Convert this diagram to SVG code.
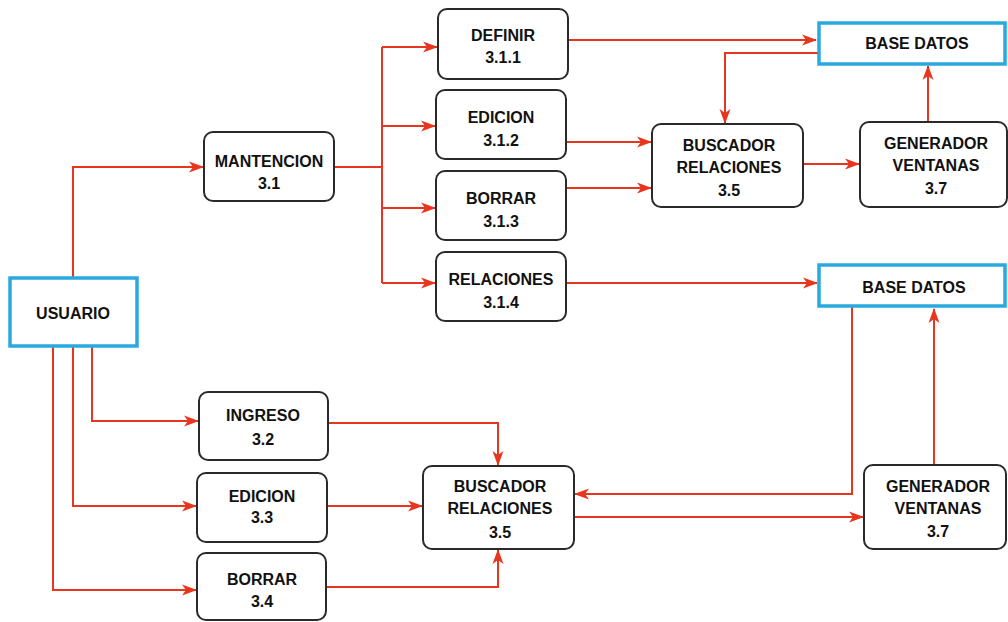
<svg xmlns="http://www.w3.org/2000/svg" width="1008" height="622" viewBox="0 0 1008 622">
  <style>
    .proc { fill: #ffffff; stroke: #2a2a2a; stroke-width: 2; }
    .store { fill: #ffffff; stroke: #2aa9df; stroke-width: 3.5; }
    .label { font-family: "Liberation Sans", Arial, sans-serif; font-weight: bold; font-size: 16px; fill: #111; text-anchor: middle; }
    .flow { fill: none; stroke: #e8361e; stroke-width: 2; }
    .arrow { marker-end: url(#head); }
  </style>
  <defs>
    <marker id="head" markerUnits="userSpaceOnUse" markerWidth="16" markerHeight="12" refX="14" refY="6" orient="auto">
      <path d="M0,0.5 L15,6 L0,11.5 L4,6 z" fill="#e8361e"/>
    </marker>
  </defs>

  <!-- data flows -->
  <g id="connectors">
    <path class="flow arrow" d="M73,277 V167 H203"/>
    <path class="flow" d="M334,167 H382"/>
    <path class="flow" d="M382,47 V283"/>
    <path class="flow arrow" d="M382,47 H437"/>
    <path class="flow arrow" d="M382,126 H435"/>
    <path class="flow arrow" d="M382,208 H435"/>
    <path class="flow arrow" d="M382,283 H435"/>
    <path class="flow arrow" d="M568,40 H816"/>
    <path class="flow arrow" d="M818,53 H725 V123"/>
    <path class="flow arrow" d="M566,142 H651"/>
    <path class="flow arrow" d="M566,188 H651"/>
    <path class="flow arrow" d="M803,164 H859"/>
    <path class="flow arrow" d="M928,122 V66"/>
    <path class="flow arrow" d="M566,283 H817"/>
    <path class="flow arrow" d="M852,307 V494 H575"/>
    <path class="flow arrow" d="M574,517 H863"/>
    <path class="flow arrow" d="M934,465 V309"/>
    <path class="flow arrow" d="M92,347 V421 H198"/>
    <path class="flow arrow" d="M73,347 V506 H196"/>
    <path class="flow arrow" d="M53,347 V590 H196"/>
    <path class="flow arrow" d="M328,423 H498 V465"/>
    <path class="flow arrow" d="M327,506 H422"/>
    <path class="flow arrow" d="M326,587 H498 V550"/>
  </g>

  <g id="usuario">
    <rect class="store" x="10" y="278" width="127" height="68"/>
    <text class="label" x="73" y="319">USUARIO</text>
  </g>

  <g id="mantencion">
    <rect class="proc" x="204" y="132" width="130" height="69" rx="9"/>
    <text class="label" x="269" y="167">MANTENCION</text>
    <text class="label" x="269" y="189">3.1</text>
  </g>

  <g id="definir">
    <rect class="proc" x="438" y="9" width="130" height="70" rx="9"/>
    <text class="label" x="503" y="41">DEFINIR</text>
    <text class="label" x="503" y="63">3.1.1</text>
  </g>

  <g id="edicion-312">
    <rect class="proc" x="436" y="90" width="130" height="69" rx="9"/>
    <text class="label" x="501" y="123">EDICION</text>
    <text class="label" x="501" y="146">3.1.2</text>
  </g>

  <g id="borrar-313">
    <rect class="proc" x="436" y="171" width="130" height="69" rx="9"/>
    <text class="label" x="501" y="204">BORRAR</text>
    <text class="label" x="501" y="227">3.1.3</text>
  </g>

  <g id="relaciones">
    <rect class="proc" x="436" y="252" width="130" height="69" rx="9"/>
    <text class="label" x="501" y="285">RELACIONES</text>
    <text class="label" x="501" y="308">3.1.4</text>
  </g>

  <g id="base-datos-1">
    <rect class="store" x="819" y="23" width="186" height="41"/>
    <text class="label" x="917" y="49">BASE DATOS</text>
  </g>

  <g id="buscador-top">
    <rect class="proc" x="652" y="124" width="151" height="83" rx="9"/>
    <text class="label" x="729" y="151">BUSCADOR</text>
    <text class="label" x="729" y="173">RELACIONES</text>
    <text class="label" x="729" y="196">3.5</text>
  </g>

  <g id="generador-top">
    <rect class="proc" x="860" y="122" width="147" height="85" rx="9"/>
    <text class="label" x="936" y="149">GENERADOR</text>
    <text class="label" x="936" y="171">VENTANAS</text>
    <text class="label" x="936" y="194">3.7</text>
  </g>

  <g id="base-datos-2">
    <rect class="store" x="819" y="265" width="186" height="41"/>
    <text class="label" x="914" y="293">BASE DATOS</text>
  </g>

  <g id="ingreso">
    <rect class="proc" x="199" y="392" width="129" height="68" rx="9"/>
    <text class="label" x="263" y="421">INGRESO</text>
    <text class="label" x="263" y="445">3.2</text>
  </g>

  <g id="edicion-33">
    <rect class="proc" x="197" y="473" width="130" height="69" rx="9"/>
    <text class="label" x="262" y="502">EDICION</text>
    <text class="label" x="262" y="523">3.3</text>
  </g>

  <g id="borrar-34">
    <rect class="proc" x="197" y="553" width="129" height="67" rx="9"/>
    <text class="label" x="262" y="585">BORRAR</text>
    <text class="label" x="262" y="607">3.4</text>
  </g>

  <g id="buscador-bottom">
    <rect class="proc" x="423" y="466" width="151" height="83" rx="9"/>
    <text class="label" x="500" y="492">BUSCADOR</text>
    <text class="label" x="500" y="514">RELACIONES</text>
    <text class="label" x="500" y="538">3.5</text>
  </g>

  <g id="generador-bottom">
    <rect class="proc" x="864" y="465" width="142" height="84" rx="9"/>
    <text class="label" x="938" y="492">GENERADOR</text>
    <text class="label" x="938" y="514">VENTANAS</text>
    <text class="label" x="938" y="537">3.7</text>
  </g>
</svg>
